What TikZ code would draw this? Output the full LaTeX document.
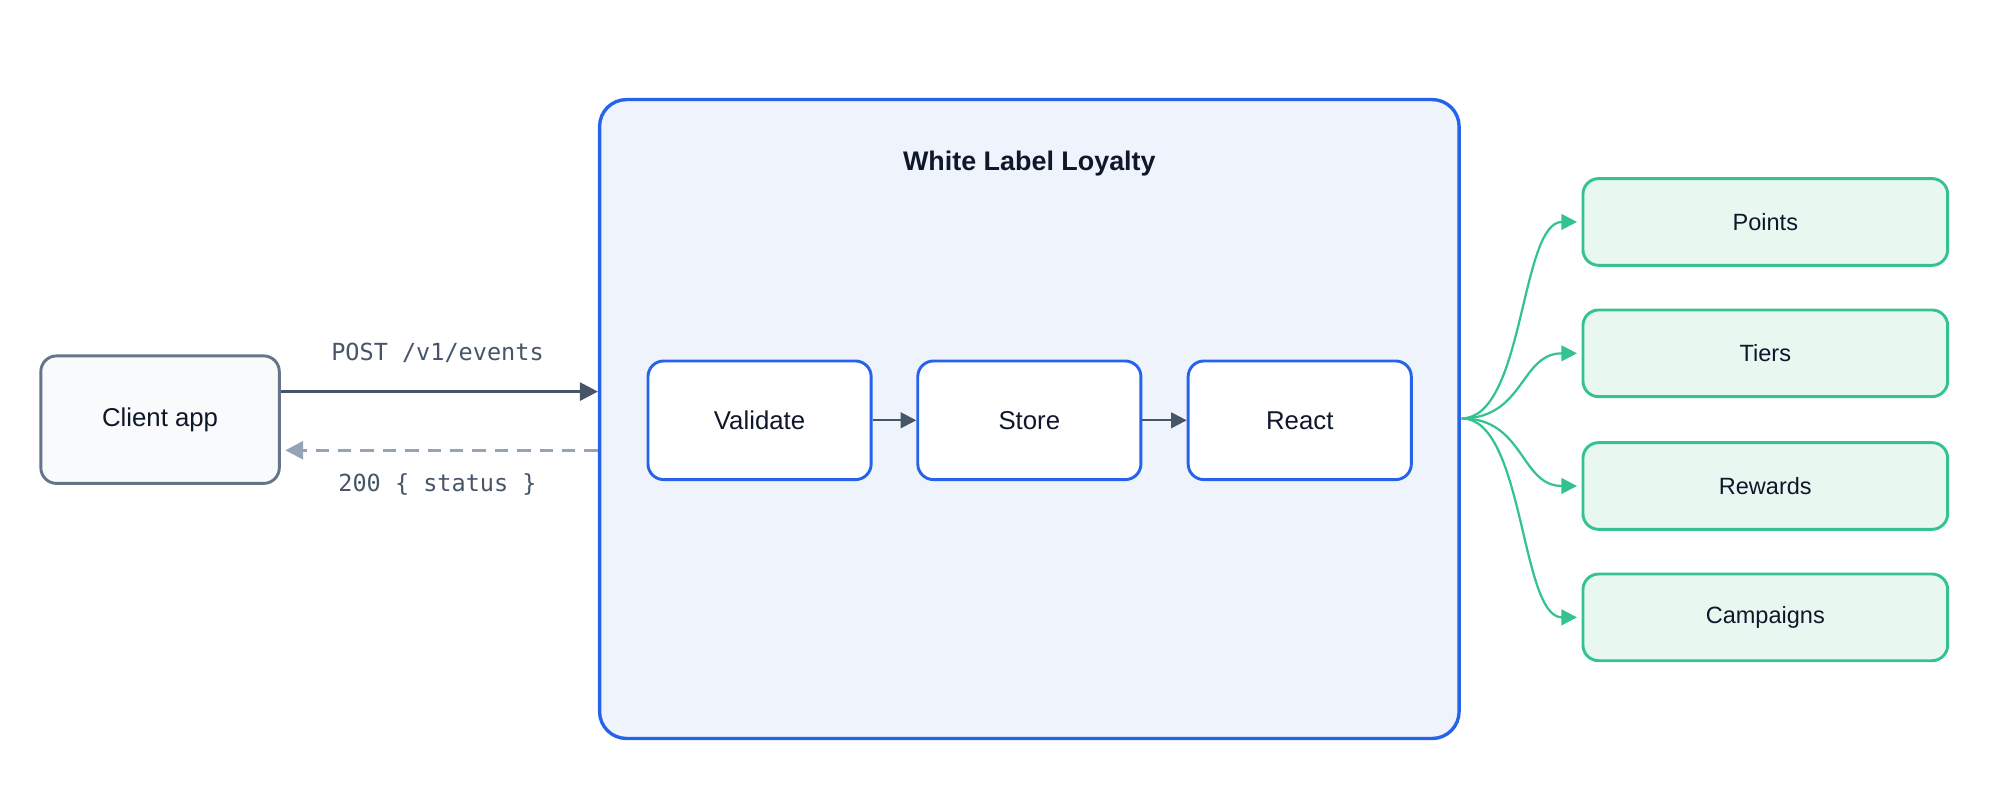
\documentclass[tikz,border=0pt]{standalone}
\usepackage{fontspec}
\setmainfont{Liberation Sans}
\newfontfamily\monof{DejaVu Sans Mono}
\usetikzlibrary{arrows.meta}
\definecolor{blueB}{HTML}{2563EB}
\definecolor{blueF}{HTML}{EEF3FC}
\definecolor{slateB}{HTML}{64748B}
\definecolor{slateF}{HTML}{F8FAFC}
\definecolor{darkA}{HTML}{475569}
\definecolor{lightA}{HTML}{94A3B8}
\definecolor{greenB}{HTML}{34C38F}
\definecolor{greenF}{HTML}{E8F8F1}
\definecolor{txt}{HTML}{0F172A}
\begin{document}
\begin{tikzpicture}[x=0.02cm,y=-0.02cm,
  box/.style={draw, line width=1.3pt, rounded corners=7pt, inner sep=0pt, text=txt, font=\fontsize{11.5}{13}\selectfont},
  stage/.style={box, draw=blueB, fill=white, minimum width=3.5cm, minimum height=1.86cm},
  outbox/.style={box, draw=greenB, fill=greenF, minimum width=5.72cm, minimum height=1.36cm, font=\fontsize{10.5}{12}\selectfont},
  lab/.style={text=darkA, font=\monof\fontsize{10.5}{12}\selectfont},
  g/.style={draw=greenB, line width=1pt, -{Triangle[length=7pt,width=7pt]}},
  a/.style={draw=darkA, line width=1.3pt, -{Triangle[length=8pt,width=8pt]}}]
\useasboundingbox (0,0) rectangle (1568,627);
\node[box, draw=blueB, fill=blueF, line width=1.5pt, rounded corners=12pt, minimum width=13.48cm, minimum height=10.02cm] (sys) at (807,328.5) {};
\node[font=\bfseries\fontsize{12}{14}\selectfont, text=txt] (title) at (807,128) {White Label Loyalty};
\node[box, draw=slateB, fill=slateF, minimum width=3.74cm, minimum height=2cm] (client) at (125.5,329) {Client app};
\node[stage] (val) at (595.5,329.5) {Validate};
\node[stage] (sto) at (807,329.5) {Store};
\node[stage] (rea) at (1019,329.5) {React};
\node[outbox] (p) at (1384,174) {Points};
\node[outbox] (t) at (1384,277) {Tiers};
\node[outbox] (r) at (1384,381) {Rewards};
\node[outbox] (c) at (1384,484) {Campaigns};
\coordinate (in1) at (sys.west |- 0,307);
\coordinate (in2) at (sys.west |- 0,353);
\coordinate (fan) at (1146,328);
\draw[a] (client.east |- in1) -- (in1);
\draw[draw=lightA, line width=1.3pt, dash pattern=on 6pt off 4pt, -{Triangle[length=8pt,width=8pt]}] (in2) -- ([xshift=2pt]client.east |- in2);
\node[lab] (l1) at (343,277) {POST /v1/events};
\node[lab] (l2) at (343,380) {200 \{ status \}};
\draw[a, line width=1pt, -{Triangle[length=7pt,width=7pt]}] (val) -- (sto);
\draw[a, line width=1pt, -{Triangle[length=7pt,width=7pt]}] (sto) -- (rea);
\foreach \n in {p,t,r,c}{
  \draw[g] (fan) .. controls (1195,328) and ([xshift=-0.96cm]\n.west) .. ([xshift=-2pt]\n.west);
}
\end{tikzpicture}
\end{document}
